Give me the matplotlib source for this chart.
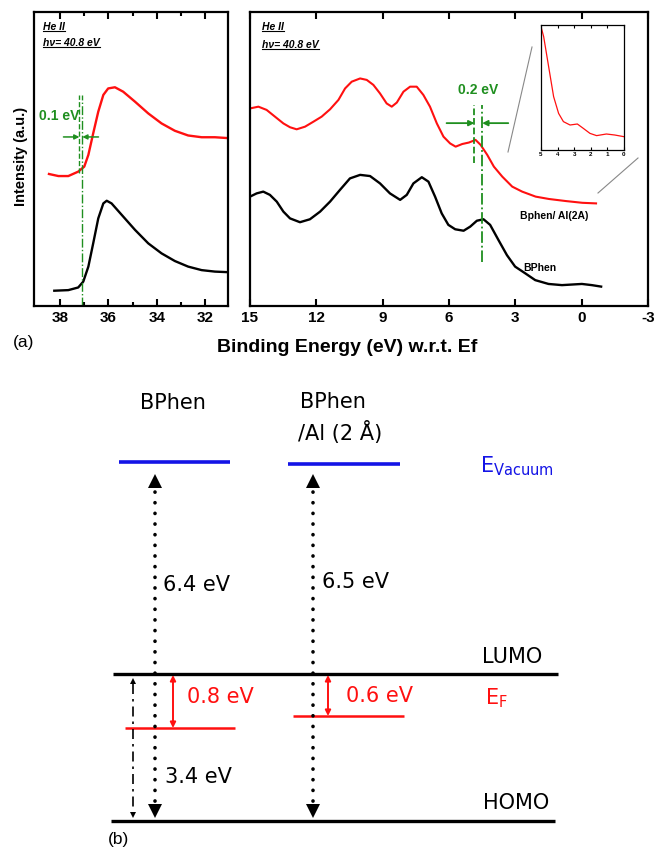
import matplotlib.pyplot as plt
from matplotlib.lines import Line2D
from matplotlib.transforms import IdentityTransform

plt.rcParams['font.family'] = ['Liberation Sans', 'DejaVu Sans']
plt.rcParams['axes.unicode_minus'] = False

W, H = 655, 851
GREEN = '#1f8f1f'
RED = '#ff1010'
BLUE = '#1414e6'

# (a) left: secondary electron cutoff, He II
cut_red_e = [38.46, 38.07, 37.66, 37.25, 37.0, 36.83, 36.63, 36.42, 36.21, 36.01,
             35.73, 35.39, 34.90, 34.35, 33.80, 33.25, 32.70, 32.14, 31.59, 31.04]
cut_red_i = [44.9, 44.2, 44.2, 45.7, 47.4, 51.4, 58.7, 66.1, 71.8, 74.0,
             74.4, 72.9, 69.5, 65.5, 62.1, 59.6, 58.0, 57.4, 57.4, 57.1]
cut_black_e = [38.24, 37.66, 37.25, 37.04, 36.83, 36.63, 36.42, 36.21, 36.07, 35.87,
               35.45, 34.90, 34.35, 33.80, 33.25, 32.70, 32.14, 31.59, 31.04]
cut_black_i = [5.2, 5.4, 6.3, 8.3, 13.4, 21.3, 29.8, 34.9, 35.8, 34.9,
               31.0, 25.9, 21.3, 17.9, 15.3, 13.4, 12.2, 11.7, 11.5]

# (a) right: valence region
val_red_e = [15.0, 14.62, 14.25, 13.87, 13.49, 13.19, 12.89, 12.51, 12.13, 11.76,
             11.38, 11.0, 10.70, 10.40, 10.02, 9.72, 9.42, 9.12, 8.82, 8.59,
             8.36, 8.06, 7.76, 7.46, 7.16, 6.86, 6.55, 6.25, 5.95, 5.70,
             5.40, 5.10, 4.80, 4.57, 4.27, 3.97, 3.59, 3.14, 2.69, 2.08,
             1.48, 0.72, -0.03, -0.65]
val_red_i = [67.2, 67.8, 66.7, 64.4, 62.1, 60.8, 60.1, 61.0, 62.7, 64.4,
             66.9, 70.1, 74.0, 76.3, 77.4, 76.9, 75.2, 72.3, 68.9, 67.8,
             69.2, 72.9, 74.6, 74.6, 71.8, 67.8, 62.1, 57.6, 55.3, 54.2,
             55.1, 55.6, 56.5, 54.8, 51.4, 47.4, 44.0, 40.6, 38.9, 37.2,
             36.4, 35.7, 35.1, 34.9]
val_black_e = [15.0, 14.70, 14.40, 14.10, 13.79, 13.49, 13.19, 12.74, 12.29, 11.83,
               11.38, 10.93, 10.48, 10.02, 9.57, 9.12, 8.67, 8.21, 7.91, 7.61,
               7.23, 6.93, 6.63, 6.33, 6.03, 5.72, 5.34, 5.04, 4.74, 4.44,
               4.14, 3.76, 3.38, 3.01, 2.55, 2.10, 1.50, 0.89, -0.01, -0.46,
               -0.88]
val_black_i = [37.2, 38.3, 38.9, 37.8, 35.5, 32.1, 29.8, 28.5, 29.5, 32.1,
               35.5, 39.5, 43.4, 44.6, 44.2, 41.7, 38.3, 36.1, 37.8, 41.7,
               43.8, 42.3, 37.2, 31.5, 27.6, 26.1, 25.6, 27.0, 29.0, 29.5,
               27.6, 22.4, 17.3, 13.4, 11.1, 8.8, 7.5, 7.1, 7.5, 7.1,
               6.6]

# inset: zoom near Ef of Bphen/Al
ins_e = [5.0, 4.84, 4.64, 4.44, 4.24, 3.94, 3.65, 3.25, 2.81, 2.45, 2.05,
         1.65, 1.06, 0.56, 0.02]
ins_i = [98.7, 90.7, 74.7, 58.7, 42.7, 29.3, 22.7, 20.0, 20.8, 17.3, 13.3,
         11.5, 12.8, 12.0, 10.7]

# onset markers (eV) and shift labels
cut_onsets = [37.2, 37.08]
val_onsets = [4.85, 4.5]
cut_shift = '0.1 eV'
val_shift = '0.2 eV'

# (b) energy level diagram
samples = ['BPhen', 'BPhen', '/Al (2 Å)']
vac_gap = ['6.4 eV', '6.5 eV']
fermi_gap = ['0.8 eV', '0.6 eV']
gap = '3.4 eV'


def fig_ax(x0, y0, x1, y1):
    return fig.add_axes([x0 / W, 1 - y1 / H, (x1 - x0) / W, (y1 - y0) / H])


def style_axis(ax):
    for s in ax.spines.values():
        s.set_linewidth(1.6)
    ax.set_ylim(0, 100)
    ax.set_yticks([])
    ax.tick_params(axis='x', which='both', direction='in', top=True,
                   width=1.5, labelsize=11)
    ax.tick_params(axis='x', which='major', length=5)
    ax.tick_params(axis='x', which='minor', length=3)
    for lab in ax.get_xticklabels():
        lab.set_fontweight('bold')


def he_label(ax, x, y1, y2):
    t1 = ax.text(x, y1, 'He II', transform=ax.transAxes, fontsize=7.5,
                 fontweight='bold', fontstyle='italic', va='center')
    t2 = ax.text(x, y2, 'hν= 40.8 eV', transform=ax.transAxes, fontsize=7.5,
                 fontweight='bold', fontstyle='italic', va='center')
    return [t1, t2]


fig = plt.figure(figsize=(W / 100, H / 100), dpi=100)

# left panel
ax1 = fig_ax(34, 12, 228, 306)
ax1.plot(cut_red_e, cut_red_i, color=RED, lw=1.7)
ax1.plot(cut_black_e, cut_black_i, color='black', lw=1.7)
ax1.set_xlim(39.08, 31.05)
ax1.set_xticks([38, 36, 34, 32])
ax1.set_xticks([37, 35, 33], minor=True)
style_axis(ax1)
ax1.plot([cut_onsets[0]] * 2, [45.2, 71.8], color=GREEN, lw=1.0, ls='--')
ax1.plot([cut_onsets[1]] * 2, [0, 71.8], color=GREEN, lw=1.0, ls='-.')
ax1.annotate('', xy=(cut_onsets[0], 57.5), xytext=(37.86, 57.5),
             arrowprops=dict(arrowstyle='-|>', color=GREEN, lw=1.1,
                             mutation_scale=7, shrinkA=0, shrinkB=0))
ax1.annotate('', xy=(cut_onsets[1], 57.5), xytext=(36.41, 57.5),
             arrowprops=dict(arrowstyle='-|>', color=GREEN, lw=1.1,
                             mutation_scale=7, shrinkA=0, shrinkB=0))
ax1.text(38.05, 64.6, cut_shift, color=GREEN, fontsize=10, fontweight='bold',
         ha='center', va='center')
under = he_label(ax1, 0.046, 0.949, 0.895)

# right panel
ax2 = fig_ax(250, 12, 648, 306)
ax2.plot(val_red_e, val_red_i, color=RED, lw=1.5)
ax2.plot(val_black_e, val_black_i, color='black', lw=1.7)
ax2.set_xlim(15, -3)
ax2.set_xticks([15, 12, 9, 6, 3, 0, -3])
style_axis(ax2)
ax2.plot([val_onsets[0]] * 2, [48.6, 68.4], color=GREEN, lw=1.3, ls='--')
ax2.plot([val_onsets[1]] * 2, [15.0, 68.4], color=GREEN, lw=1.3, ls='-.')
ax2.annotate('', xy=(val_onsets[0], 62.2), xytext=(6.11, 62.2),
             arrowprops=dict(arrowstyle='-|>', color=GREEN, lw=1.3,
                             mutation_scale=8, shrinkA=0, shrinkB=0))
ax2.annotate('', xy=(val_onsets[1], 62.2), xytext=(3.32, 62.2),
             arrowprops=dict(arrowstyle='-|>', color=GREEN, lw=1.3,
                             mutation_scale=8, shrinkA=0, shrinkB=0))
ax2.text(4.7, 73.5, val_shift, color=GREEN, fontsize=10, fontweight='bold',
         ha='center', va='center')
ax2.text(1.25, 30.6, 'Bphen/ Al(2A)', fontsize=7.5, fontweight='bold',
         ha='center', va='center')
ax2.text(1.9, 12.9, 'BPhen', fontsize=7.5, fontweight='bold',
         ha='center', va='center')
under += he_label(ax2, 0.03, 0.949, 0.888)

# inset
ax3 = fig_ax(541, 25, 624, 150)
ax3.plot(ins_e, ins_i, color=RED, lw=0.9)
ax3.set_xlim(5, 0)
ax3.set_ylim(0, 100)
ax3.set_yticks([])
ax3.set_xticks([5, 4, 3, 2, 1, 0])
ax3.tick_params(axis='x', direction='in', top=True, length=2, width=0.8,
                labelsize=4.5, pad=1.5)
for lab in ax3.get_xticklabels():
    lab.set_fontweight('bold')
for s in ax3.spines.values():
    s.set_linewidth(0.9)
for (xa, ya, xb, yb) in [(532, 47, 508, 152), (638, 158, 598, 193)]:
    fig.add_artist(Line2D([xa / W, xb / W], [1 - ya / H, 1 - yb / H],
                          transform=fig.transFigure, color='#888888', lw=0.8))

fig.text(13 / W, 1 - 343 / H, '(a)', fontsize=12.5, va='center')
fig.text(347 / W, 1 - 347 / H, 'Binding Energy (eV) w.r.t. Ef', fontsize=14,
         fontweight='bold', ha='center', va='center')
fig.text(21 / W, 1 - 156 / H, 'Intensity (a.u.)', fontsize=10.5,
         fontweight='bold', rotation=90, ha='center', va='center')

# (b) schematic, laid out in figure pixels
axb = fig.add_axes([0, 0, 1, 481 / H])
axb.set_xlim(0, W)
axb.set_ylim(H, 370)
axb.axis('off')
bf = dict(family=['DejaVu Sans'], fontsize=15)

axb.text(173, 403, samples[0], ha='center', va='center', **bf)
axb.text(300, 402, samples[1], ha='left', va='center', **bf)
axb.text(298, 433, samples[2], ha='left', va='center', **bf)

axb.plot([119, 230], [462, 462], color=BLUE, lw=2.6, solid_capstyle='butt')
axb.plot([288, 400], [464, 464], color=BLUE, lw=2.6, solid_capstyle='butt')
axb.text(480, 466, r'E$_{\mathrm{Vacuum}}$', color=BLUE, ha='left', va='center', **bf)

axb.plot([113, 558], [674, 674], color='black', lw=2.4, solid_capstyle='butt')
axb.plot([111, 555], [821, 821], color='black', lw=2.4, solid_capstyle='butt')
axb.text(482, 657, 'LUMO', ha='left', va='center', **bf)
axb.text(483, 803, 'HOMO', ha='left', va='center', **bf)

axb.plot([125, 235], [728, 728], color=RED, lw=1.8, solid_capstyle='butt')
axb.plot([293, 404], [716, 716], color=RED, lw=1.8, solid_capstyle='butt')
axb.text(485, 698, r'E$_{\mathrm{F}}$', color=RED, ha='left', va='center', **bf)

for x in [155, 313]:
    axb.plot([x, x], [492, 804], color='black', lw=2.6,
             ls=(0, (0.05, 2.9)), dash_capstyle='round')
    axb.plot([x], [481], marker='^', ms=10, color='black', mew=0)
    axb.plot([x], [811], marker='v', ms=10, color='black', mew=0)

axb.plot([133, 133], [684, 811], color='black', lw=1.2, ls=(0, (6, 3, 1.5, 3)))
axb.plot([133], [681], marker='^', ms=5, color='black', mew=0)
axb.plot([133], [815], marker='v', ms=5, color='black', mew=0)

for x, y in [(173, 728), (328, 716)]:
    axb.annotate('', xy=(x, 675), xytext=(x, y),
                 arrowprops=dict(arrowstyle='<|-|>', color=RED, lw=1.4,
                                 mutation_scale=8, shrinkA=0, shrinkB=0))

axb.text(163, 585, vac_gap[0], ha='left', va='center', **bf)
axb.text(322, 582, vac_gap[1], ha='left', va='center', **bf)
axb.text(187, 697, fermi_gap[0], color=RED, ha='left', va='center', **bf)
axb.text(346, 696, fermi_gap[1], color=RED, ha='left', va='center', **bf)
axb.text(165, 777, gap, ha='left', va='center', **bf)
axb.text(108, 840, '(b)', fontsize=12.5, ha='left', va='center')

# underline the He II source labels
fig.canvas.draw()
r = fig.canvas.get_renderer()
for t in under:
    bb = t.get_window_extent(r)
    fig.add_artist(Line2D([bb.x0, bb.x1], [bb.y0 + 0.5, bb.y0 + 0.5],
                          transform=IdentityTransform(), color='black', lw=0.8))

fig.savefig('out.png', dpi=100)
